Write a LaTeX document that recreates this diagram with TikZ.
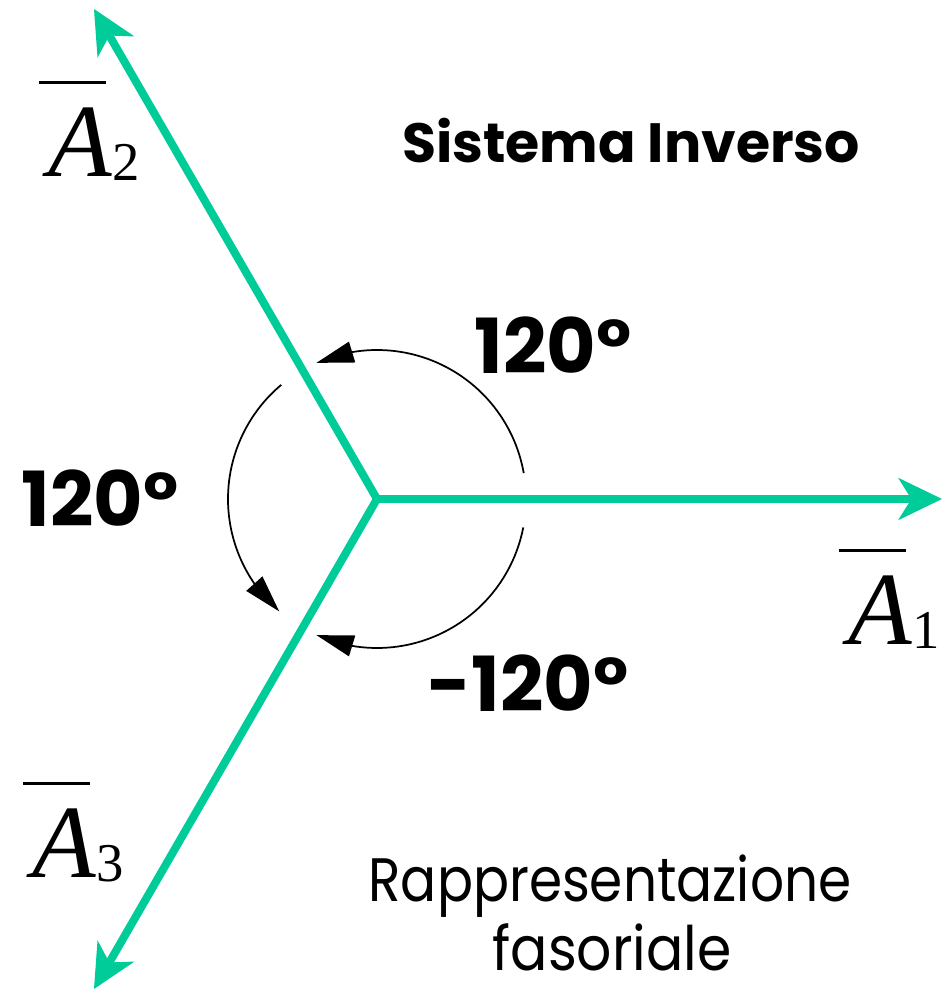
\documentclass[tikz,border=0pt]{standalone}
\usepackage{fontspec}
\setmainfont{Poppins}
\newfontfamily\tms{Liberation Serif}
\usetikzlibrary{arrows.meta,bending}
\definecolor{phgreen}{RGB}{0,204,153}
\newcommand{\phasorlabel}[1]{{\tms\fontsize{78}{78}\selectfont\makebox[0pt][l]{\kern-6.75pt\raisebox{69.4pt}{\rule{50pt}{2.25pt}}}\textit{A}\raisebox{-3pt}{\fontsize{41}{41}\selectfont #1}}}
\begin{document}
\begin{tikzpicture}[x=0.75pt,y=0.75pt,
  phline/.style={draw=phgreen,line width=6pt,line join=miter},
  phtip/.tip={Stealth[length=33pt,width=32pt,inset=10pt,line width=0pt]},
  arcline/.style={draw=black,line width=1.3pt,-{Triangle[length=28pt,width=16pt,flex]}},
  boldlbl/.style={inner sep=0pt,font=\bfseries\fontsize{57}{57}\selectfont},
  titlelbl/.style={inner sep=0pt,font=\bfseries\fontsize{41.5}{41.5}\selectfont},
  plainlbl/.style={inner sep=0pt,font=\fontsize{46}{46}\selectfont},
  phlbl/.style={inner sep=0pt,anchor=base west}]
\useasboundingbox (0,0) rectangle (946,990);
\fill[white] (0,0) rectangle (946,990);
\coordinate (O) at (377,491);
\coordinate (t1) at (942,491);
\coordinate (t2) at (94,981);
\coordinate (t3) at (94,1);
\draw[phline,{phtip}-{phtip}] (t2) -- (O) -- (t3);
\draw[phline,-{phtip}] (O) -- (t1);
\draw[arcline] ([shift={(10:149)}]O) arc[start angle=10,end angle=114,radius=149];
\draw[arcline] ([shift={(130:149)}]O) arc[start angle=130,end angle=229,radius=149];
\draw[arcline] ([shift={(-11:149)}]O) arc[start angle=-11,end angle=-114,radius=149];
\node[phlbl] (L1) at (848,345) {\phasorlabel{1}};
\node[phlbl] (L2) at (48,813) {\phasorlabel{2}};
\node[phlbl] (L3) at (32,112) {\phasorlabel{3}};
\node[titlelbl,anchor=base] (title) at (631,827) {Sistema Inverso};
\node[boldlbl,anchor=base] (ang1) at (553,616) {120°};
\node[boldlbl,anchor=base] (ang2) at (100,463) {120°};
\node[boldlbl,anchor=base] (ang3) at (528,278) {-120°};
\node[plainlbl,anchor=base] (rap1) at (610,88) {\scalebox{0.87}[1]{Rappresentazione}};
\node[plainlbl,anchor=base] (rap2) at (612,20) {\scalebox{0.9}[1]{fasoriale}};
\end{tikzpicture}
\end{document}
